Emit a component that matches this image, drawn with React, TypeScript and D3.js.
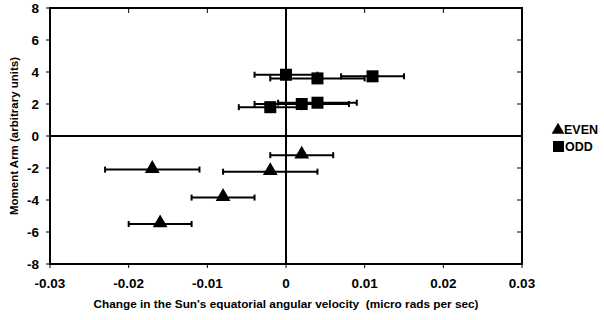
import React from 'react';
import * as d3 from 'd3';

// ODD cycles (squares)
const oddX = [0.0, 0.004, 0.011, -0.002, 0.002, 0.004];
const oddY = [3.83, 3.6, 3.73, 1.8, 2.0, 2.08];
const oddErr = [0.004, 0.006, 0.004, 0.004, 0.006, 0.005];

// EVEN cycles (triangles)
const evenX = [0.002, -0.002, -0.017, -0.008, -0.016];
const evenY = [-1.2, -2.23, -2.1, -3.85, -5.5];
const evenErr = [0.004, 0.006, 0.006, 0.004, 0.004];

const xTicks = [-0.03, -0.02, -0.01, 0, 0.01, 0.02, 0.03];
const yTicks = [-8, -6, -4, -2, 0, 2, 4, 6, 8];
const seriesNames = ['EVEN', 'ODD'];

const font = '"Liberation Sans", Arial, sans-serif';

const App = () => {
  const width = 604;
  const height = 320;
  const left = 50, right = 522, top = 8, bottom = 264;

  const x = d3.scaleLinear().domain([-0.03, 0.03]).range([left, right]);
  const y = d3.scaleLinear().domain([-8, 8]).range([bottom, top]);

  const tri = d3.symbol().type(d3.symbolTriangle).size(95)();
  const sq = 12;

  const errBar = (cx: number, cy: number, e: number, key: string) => {
    const x0 = x(cx - e), x1 = x(cx + e), yy = y(cy);
    return (
      <g key={key} stroke="#000" strokeWidth={2}>
        <line x1={x0} x2={x1} y1={yy} y2={yy} />
        <line x1={x0} x2={x0} y1={yy - 3} y2={yy + 3} />
        <line x1={x1} x2={x1} y1={yy - 3} y2={yy + 3} />
      </g>
    );
  };

  return (
    <svg
      width={width}
      height={height}
      viewBox={`0 0 ${width} ${height}`}
      style={{ position: 'absolute', left: 0, top: 0, background: '#fff' }}
    >
      <rect x={0} y={0} width={width} height={height} fill="#fff" />

      {/* frame */}
      <rect x={left} y={top} width={right - left} height={bottom - top} fill="none" stroke="#000" strokeWidth={2} />

      {/* zero axes */}
      <line x1={x(0)} x2={x(0)} y1={top} y2={bottom} stroke="#000" strokeWidth={2} />
      <line x1={left} x2={right} y1={y(0)} y2={y(0)} stroke="#000" strokeWidth={2} />

      {/* ticks */}
      {yTicks.map(t => (
        <g key={'yt' + t} stroke="#000" strokeWidth={1}>
          <line x1={left - 4} x2={left} y1={y(t)} y2={y(t)} />
          <line x1={right - 5} x2={right} y1={y(t)} y2={y(t)} />
        </g>
      ))}
      {xTicks.map(t => (
        <g key={'xt' + t} stroke="#000" strokeWidth={1}>
          <line x1={x(t)} x2={x(t)} y1={bottom} y2={bottom + 4} />
          <line x1={x(t)} x2={x(t)} y1={top} y2={top + 5} />
        </g>
      ))}

      {/* tick labels */}
      {yTicks.map(t => (
        <text key={'yl' + t} x={left - 11} y={y(t)} dy="0.35em" textAnchor="end"
          fontFamily={font} fontWeight="bold" fontSize={13.5} fill="#000">{t}</text>
      ))}
      {xTicks.map(t => (
        <text key={'xl' + t} x={x(t)} y={bottom + 24} textAnchor="middle"
          fontFamily={font} fontWeight="bold" fontSize={13.5} fill="#000">{t}</text>
      ))}

      {/* axis titles */}
      <text x={286} y={308} textAnchor="middle" fontFamily={font} fontWeight="bold" fontSize={11.8}
        fill="#000" style={{ whiteSpace: 'pre' }}>
        {"Change in the Sun's equatorial angular velocity  (micro rads per sec)"}
      </text>
      <text transform={`translate(14, ${136}) rotate(-90)`} textAnchor="middle" dy="0.35em"
        fontFamily={font} fontWeight="bold" fontSize={11.5} fill="#000">
        Moment Arm (arbitrary units)
      </text>

      {/* error bars */}
      {oddX.map((v, i) => errBar(v, oddY[i], oddErr[i], 'oe' + i))}
      {evenX.map((v, i) => errBar(v, evenY[i], evenErr[i], 'ee' + i))}

      {/* markers */}
      {oddX.map((v, i) => (
        <rect key={'om' + i} x={x(v) - sq / 2} y={y(oddY[i]) - sq / 2} width={sq} height={sq} fill="#000" />
      ))}
      {evenX.map((v, i) => (
        <path key={'em' + i} d={tri ?? ''} transform={`translate(${x(v)}, ${y(evenY[i]) - 1})`} fill="#000" />
      ))}

      {/* legend */}
      <path d={d3.symbol().type(d3.symbolTriangle).size(70)() ?? ''} transform="translate(558, 130)" fill="#000" />
      <text x={564} y={130} dy="0.35em" fontFamily={font} fontWeight="bold" fontSize={12.5} fill="#000">{seriesNames[0]}</text>
      <rect x={553} y={141} width={11} height={11} fill="#000" />
      <text x={565} y={147} dy="0.35em" fontFamily={font} fontWeight="bold" fontSize={12.5} fill="#000">{seriesNames[1]}</text>
    </svg>
  );
};

export default App;
